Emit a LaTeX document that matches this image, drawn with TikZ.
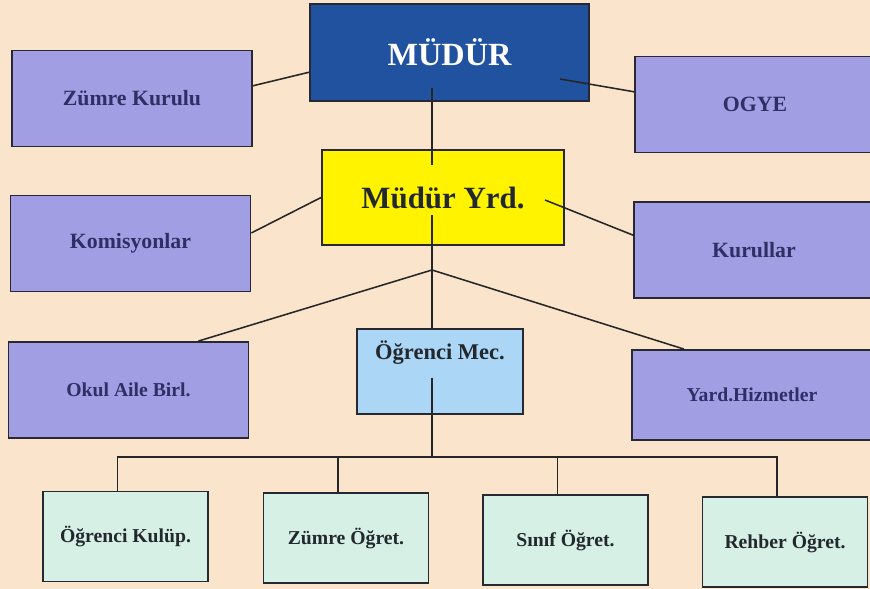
\documentclass[tikz,border=0pt]{standalone}
\usepackage{fontspec}
\setmainfont{Liberation Serif}
\usepackage{tikz}

\definecolor{bgpeach}{RGB}{250,229,204}
\definecolor{mudurblue}{RGB}{32,82,160}
\definecolor{lavender}{RGB}{162,158,228}
\definecolor{yrdyellow}{RGB}{255,243,0}
\definecolor{mecblue}{RGB}{172,214,246}
\definecolor{mint}{RGB}{214,240,230}
\definecolor{navytext}{RGB}{48,46,100}
\definecolor{darktext}{RGB}{35,40,45}
\definecolor{edgegray}{RGB}{40,40,50}

\begin{document}
\begin{tikzpicture}[x=0.025cm,y=-0.025cm,
    box/.style={draw=edgegray,line width=1.3pt,inner sep=0pt},
    head/.style={box,fill=mudurblue,text=white,minimum width=6.975cm,minimum height=2.425cm,font=\bfseries\fontsize{23}{26}\selectfont},
    yrdbox/.style={box,fill=yrdyellow,text=darktext,minimum width=6.05cm,minimum height=2.375cm,font=\bfseries\fontsize{22}{25}\selectfont},
    unit/.style={box,fill=lavender,text=navytext,minimum width=6cm,minimum height=2.4cm,font=\bfseries\fontsize{15.5}{18}\selectfont},
    mecbox/.style={box,fill=mecblue,minimum width=4.15cm,minimum height=2.125cm},
    sub/.style={box,fill=mint,text=darktext,minimum width=4.125cm,minimum height=2.25cm,font=\bfseries\fontsize{14}{16}\selectfont},
    link/.style={draw=black!85,line width=1.1pt}]
        \useasboundingbox (0,0) rectangle (870,589);
        \fill[bgpeach] (0,0) rectangle (870,589);

        % top level
        \node[head] (mudur) at (449.5,52.5) {MÜDÜR};
        \node[unit] (zk) at (132,98.5) {Zümre Kurulu};
        \node[unit] (ogye) at (755,104.5) {OGYE};

        % second level
        \node[yrdbox] (yrd) at (443,197.5) {Müdür Yrd.};
        \node[unit] (kom) at (130.5,243.5) {Komisyonlar};
        \node[unit] (kur) at (754,250) {Kurullar};

        % third level
        \node[unit,font=\bfseries\fontsize{14}{16}\selectfont] (oab) at (128.5,390) {Okul Aile Birl.};
        \node[mecbox,label={[anchor=north,yshift=-0.2cm,text=darktext,font=\bfseries\fontsize{16}{18}\selectfont]north:Öğrenci Mec.}] (om) at (440,371.5) {};
        \node[unit,minimum height=2.25cm,font=\bfseries\fontsize{14}{16}\selectfont] (yh) at (752,395) {Yard.Hizmetler};

        % bottom row
        \node[sub] (ok) at (125.5,536.5) {Öğrenci Kulüp.};
        \node[sub] (zo) at (346,538) {Zümre Öğret.};
        \node[sub] (so) at (565.5,540) {Sınıf Öğret.};
        \node[sub] (ro) at (785,542) {Rehber Öğret.};

        \coordinate (mudurR) at (560,79);
        \coordinate (mudurB) at (432,88);
        \coordinate (yrdT) at (432,165);
        \coordinate (yrdR) at (545,200);
        \coordinate (yrdB) at (432,215);
        \coordinate (fork) at (432,270);
        \coordinate (mecB) at (432,378);
        \coordinate (bus) at (432,457);

        \path[link] (zk.6.4) -- (mudur.188.4);
        \path[link] (mudurR) -- (ogye.174.5);
        \path[link] (mudurB) -- (yrdT);
        \path[link] (kom.5) -- (yrd.west);
        \path[link] (yrdR) -- (kur.173.8);
        \path[link] (yrdB) -- (fork);
        \path[link] (fork) -- (oab.35.8);
        \path[link] (fork) -- ([xshift=-0.2cm]om.north);
        \path[link] (fork) -- (yh.146.1);
        \path[link] (mecB) -- (bus);
        \foreach \n in {ok,zo,so,ro}
            \path[link] (bus) -| ([xshift=-0.2cm]\n.north);
\end{tikzpicture}
\end{document}
